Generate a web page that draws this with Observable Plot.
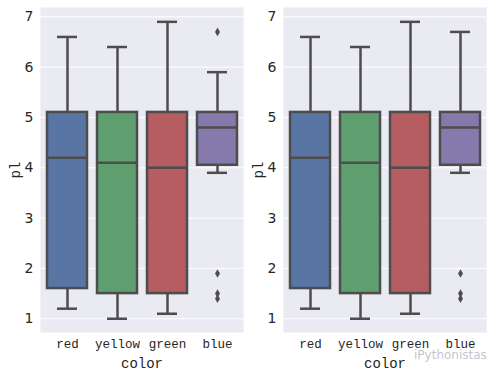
<!DOCTYPE html>
<html>
<head>
<meta charset="utf-8">
<script src="https://cdn.jsdelivr.net/npm/d3@7"></script>
<script src="https://cdn.jsdelivr.net/npm/@observablehq/plot@0.6"></script>
<style>
  html, body { margin: 0; padding: 0; background: #fff; }
  #wrap { position: relative; width: 493px; height: 377px; overflow: hidden; }
  #wrap svg { position: absolute; top: 0; }
  .wm { position: absolute; left: 414px; top: 348px; font: 12px "DejaVu Sans", sans-serif; color: rgba(185,185,195,0.85); }
</style>
</head>
<body>
<div id="wrap"></div>
<script>
// categories and box statistics
const colors = ["red", "yellow", "green", "blue"];
const fills = ["#5975A4", "#5F9E6E", "#B55D60", "#857AAB"];
const q1 = [1.6, 1.5, 1.5, 4.05];
const median = [4.2, 4.1, 4.0, 4.8];
const q3 = [5.1, 5.1, 5.1, 5.1];
const whiskLo = [1.2, 1.0, 1.1, 3.9];
const whiskHiLeft = [6.6, 6.4, 6.9, 5.9];
const whiskHiRight = [6.6, 6.4, 6.9, 6.7];
const outlierColor = ["blue", "blue", "blue", "blue"];
const outlierLeft = [6.7, 1.9, 1.5, 1.4];
const outlierColorR = ["blue", "blue", "blue"];
const outlierRight = [1.9, 1.5, 1.4];
const yTicks = [1, 2, 3, 4, 5, 6, 7];

const edge = "#4d4d4d";

function panel(hi, outCats, outVals, width, mR) {
  const stats = colors.map((c, i) => ({c, q1: q1[i], med: median[i], q3: q3[i], lo: whiskLo[i], hi: hi[i]}));
  const outs = outVals.map((v, i) => ({c: outCats[i], v}));
  return Plot.plot({
    width, height: 377,
    marginLeft: 40, marginRight: mR, marginTop: 7, marginBottom: 45,
    style: {fontFamily: "'Liberation Mono', monospace", fontSize: "12.5px", color: "#262626", background: "transparent"},
    x: {domain: colors, padding: 0, label: "color", labelAnchor: "center", labelOffset: 35, tickSize: 0, tickPadding: 7},
    y: {domain: [0.727, 7.185], ticks: yTicks, tickFormat: "d", label: "pl", labelAnchor: "center", labelOffset: 30, tickSize: 0, tickPadding: 7, labelArrow: "none"},
    color: {type: "ordinal", domain: colors, range: fills},
    marks: [
      Plot.frame({fill: "#EAEAF2", stroke: null}),
      Plot.gridY(yTicks, {stroke: "#fff", strokeOpacity: 1, strokeWidth: 1}),
      Plot.ruleX(stats, {x: "c", y1: "q3", y2: "hi", stroke: edge, strokeWidth: 2.5}),
      Plot.ruleX(stats, {x: "c", y1: "lo", y2: "q1", stroke: edge, strokeWidth: 2.5}),
      Plot.tickY(stats, {x: "c", y: "hi", stroke: edge, strokeWidth: 2.5, insetLeft: 15, insetRight: 15}),
      Plot.tickY(stats, {x: "c", y: "lo", stroke: edge, strokeWidth: 2.5, insetLeft: 15, insetRight: 15}),
      Plot.barY(stats, {x: "c", y1: "q1", y2: "q3", fill: {value: d => d.c, scale: "color"}, stroke: edge, strokeWidth: 2.5, insetLeft: 5, insetRight: 5}),
      Plot.tickY(stats, {x: "c", y: "med", stroke: edge, strokeWidth: 2.5, insetLeft: 5, insetRight: 5}),
      Plot.dot(outs, {x: "c", y: "v", symbol: "diamond", r: 2.6, fill: edge, stroke: null})
    ]
  });
}

const wrap = document.getElementById("wrap");
const left = panel(whiskHiLeft, outlierColor, outlierLeft, 246, 3);
left.style.left = "0px";
const right = panel(whiskHiRight, outlierColorR, outlierRight, 250, 7);
right.style.left = "243px";
wrap.appendChild(left);
wrap.appendChild(right);
const wm = document.createElement("div");
wm.className = "wm";
wm.textContent = "iPythonistas";
wrap.appendChild(wm);
for (const svg of [left, right]) {
  svg.querySelectorAll("[aria-label='y-axis tick label'] text").forEach(t => { t.style.fontFamily = "'DejaVu Sans', sans-serif"; t.style.fontSize = "14px"; });
  svg.querySelectorAll("[aria-label='x-axis label'] text, [aria-label='y-axis label'] text").forEach(t => {
    t.style.fontSize = "14px";
    t.textContent = t.textContent.replace(/[↑↓→←]/g, "").trim();
  });
}
</script>
</body>
</html>
